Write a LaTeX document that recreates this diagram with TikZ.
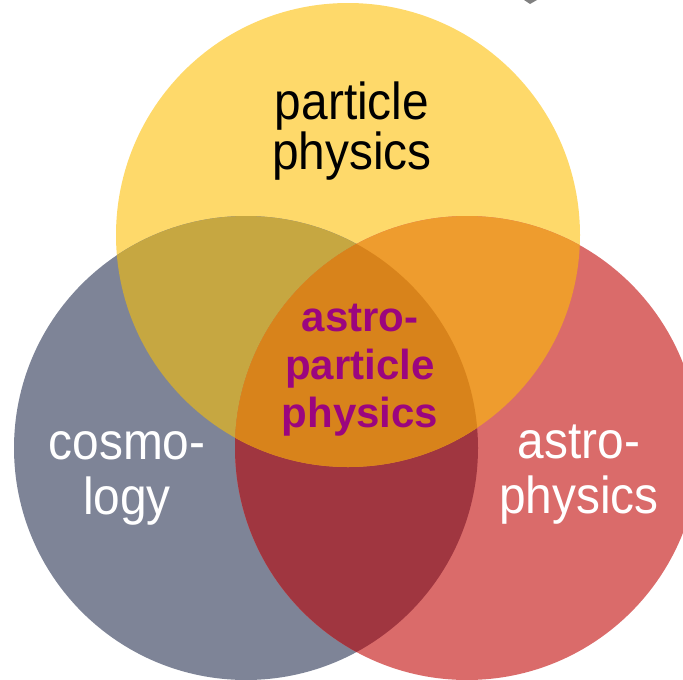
\documentclass[tikz,border=0pt]{standalone}
\usepackage{fontspec}
\setmainfont{Liberation Sans}
\newfontfamily\fieldfont[FakeStretch=0.92]{Liberation Sans}
\usepackage{xcolor}
\definecolor{ppyellow}{HTML}{FED96A}
\definecolor{cosgray}{HTML}{7E8497}
\definecolor{astred}{HTML}{DA6B6A}
\definecolor{ppcos}{HTML}{C6A741}
\definecolor{ppast}{HTML}{EE9C2E}
\definecolor{cosast}{HTML}{A03640}
\definecolor{apcore}{HTML}{D8831B}
\definecolor{apmagenta}{HTML}{9B057F}

\begin{document}
\begin{tikzpicture}[x=1pt,y=-1pt,
  every node/.style={inner sep=0pt,align=center,anchor=base},
  field/.style={font=\fieldfont\fontsize{52}{48}\selectfont},
  core/.style={font=\fontsize{42}{48}\selectfont\bfseries,text=apmagenta}]
\useasboundingbox (0,0) rectangle (683,680);
\def\rad{232}
\coordinate (pp) at (348,235);
\coordinate (cos) at (246,448);
\coordinate (ast) at (467,448);
% the three fields
\fill[ppyellow] (pp) circle (\rad);
\fill[cosgray] (cos) circle (\rad);
\fill[astred] (ast) circle (\rad);
% pairwise overlaps
\begin{scope}
  \clip (cos) circle (\rad);
  \fill[ppcos] (pp) circle (\rad);
  \fill[cosast] (ast) circle (\rad);
\end{scope}
\begin{scope}
  \clip (pp) circle (\rad);
  \fill[ppast] (ast) circle (\rad);
\end{scope}
% common part
\begin{scope}
  \clip (cos) circle (\rad);
  \clip (pp) circle (\rad);
  \fill[apcore] (ast) circle (\rad);
\end{scope}
% small mark at the top
\fill[gray] (524,0) -- (537,0) -- (530,4) -- cycle;
% labels (base = last line)
\node[field] (pplabel) at (352,169) {particle\\physics};
\node[field,text=white,font=\fieldfont\fontsize{52}{55}\selectfont] (coslabel) at (127,514) {cosmo-\\logy};
\node[field,text=white,font=\fieldfont\fontsize{52}{55}\selectfont] (astlabel) at (579,513) {astro-\\physics};
\node[core] (aplabel) at (360,427) {astro-\\particle\\physics};
\end{tikzpicture}
\end{document}
